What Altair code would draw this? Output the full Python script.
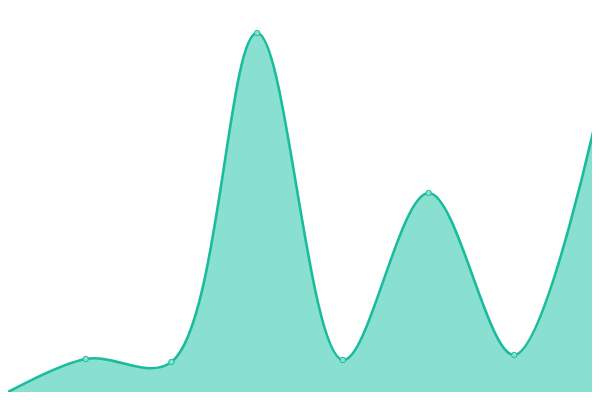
import altair as alt
import pandas as pd

steps = [0, 1, 2, 3, 4, 5, 6, 7]
values = [3.5, 41, 38, 367, 40, 207, 45, 299]

df = pd.DataFrame({"step": steps, "value": values})

x = alt.X("step:Q", axis=None, scale=alt.Scale(domain=[0.09333, 6.90667], nice=False, zero=False))
y = alt.Y("value:Q", axis=None, scale=alt.Scale(domain=[8, 392], nice=False, zero=False))

base = alt.Chart(df).encode(x=x, y=y)

area = base.mark_area(interpolate="catmull-rom", color="#8ae0d0", opacity=1)
line = base.mark_line(interpolate="catmull-rom", color="#1abc9c", strokeWidth=2.6)
points = base.mark_point(filled=True, shape="circle", size=30, color="#8ae0d0",
                         stroke="#1abc9c", strokeWidth=1, opacity=1)

chart = alt.layer(area, line, points).properties(
    width=584, height=384, autosize=alt.AutoSizeParams(type="none"), padding=0
).configure_view(stroke=None)

chart.save("out.html", embed_options={"renderer": "svg", "actions": False})
